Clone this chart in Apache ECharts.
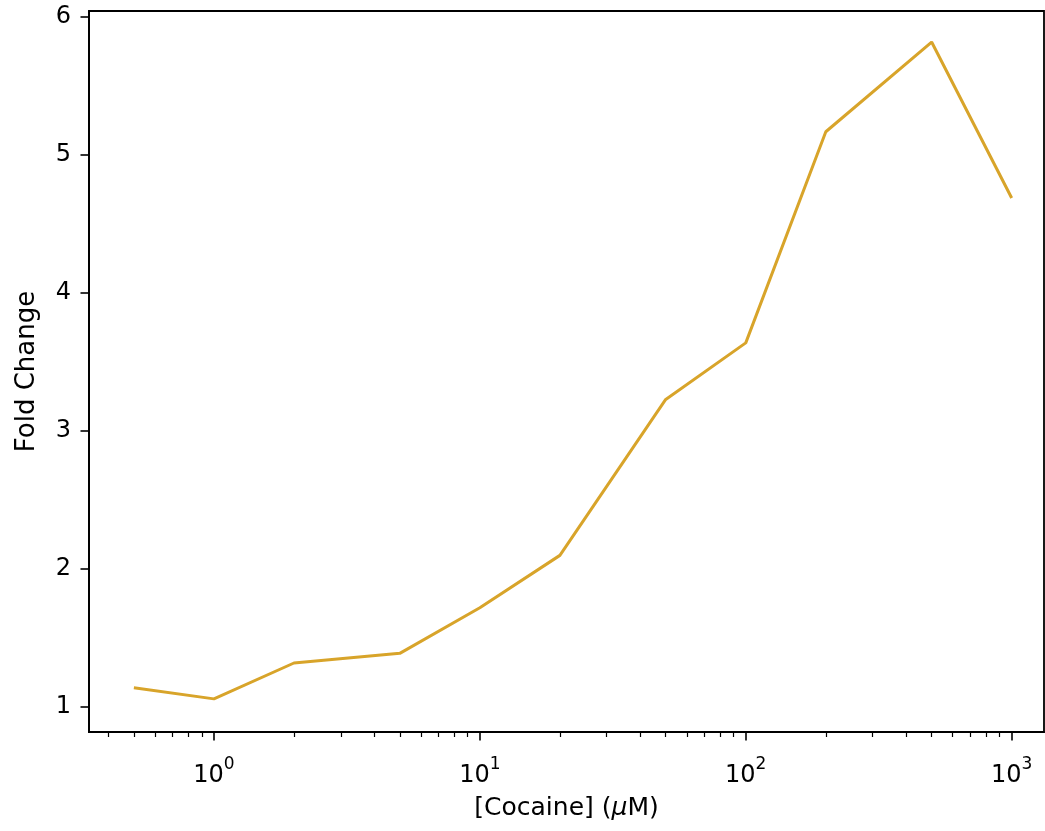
<!DOCTYPE html>
<html><head><meta charset="utf-8">
<script src="https://cdn.jsdelivr.net/npm/echarts@6/dist/echarts.min.js"></script>
<style>html,body{margin:0;padding:0;background:#fff}#c{width:1045px;height:831px}</style>
</head><body><div id="c"></div>
<script>
const concentrations = [0.5, 1, 2, 5, 10, 20, 50, 100, 200, 500, 1000];
const foldChange = [1.14, 1.06, 1.32, 1.39, 1.72, 2.10, 3.23, 3.64, 5.17, 5.82, 4.69];
const xMajorTicks = [1, 10, 100, 1000];
const xMinorTicks = [0.4, 0.5, 0.6, 0.7, 0.8, 0.9, 2, 3, 4, 5, 6, 7, 8, 9, 20, 30, 40, 50, 60, 70, 80, 90, 200, 300, 400, 500, 600, 700, 800, 900];
const yTicks = [1, 2, 3, 4, 5, 6];
const xTitle = '[Cocaine] ({i|\u03BC}M)';
const yTitle = 'Fold Change';

const FONT = 'DejaVu Sans';
const FS = 24;
const chart = echarts.init(document.getElementById('c'), null, {renderer: 'canvas'});
const xRange = {min: 0.339, max: 1323};

chart.setOption({
  animation: false,
  backgroundColor: '#fff',
  grid: {left: 89, top: 11, right: 1, bottom: 99, show: true, borderColor: '#000', borderWidth: 1.8, backgroundColor: 'transparent', containLabel: false},
  xAxis: [{
    type: 'log', logBase: 10, min: xRange.min, max: xRange.max, gridIndex: 0,
    name: xTitle, nameLocation: 'middle', nameGap: 64,
    nameTextStyle: {fontFamily: FONT, fontSize: 25, color: '#000',
      rich: {i: {fontFamily: FONT, fontStyle: 'italic', fontSize: 25, color: '#000'}}},
    axisLine: {show: true, lineStyle: {color: '#000', width: 1.8}},
    axisTick: {show: true, length: 8.5, lineStyle: {color: '#000', width: 1.6}, customValues: xMajorTicks},
    axisLabel: {
      show: true, margin: 24, customValues: xMajorTicks,
      formatter: v => '{b|10}{s|' + Math.round(Math.log10(v)) + '}',
      rich: {
        b: {fontFamily: FONT, fontSize: FS, color: '#000'},
        s: {fontFamily: FONT, fontSize: 17, color: '#000', padding: [0, 0, 22, 0]}
      }
    },
    splitLine: {show: false}, minorTick: {show: false}
  }, {
    type: 'log', logBase: 10, min: xRange.min, max: xRange.max, gridIndex: 0, position: 'bottom',
    axisLine: {show: false},
    axisTick: {show: true, length: 5, lineStyle: {color: '#000', width: 1.2}, customValues: xMinorTicks},
    axisLabel: {show: false},
    splitLine: {show: false}
  }],
  yAxis: [{
    type: 'value', min: 0.82, max: 6.045,
    name: yTitle, nameLocation: 'middle', nameGap: 49, nameRotate: 90,
    nameTextStyle: {fontFamily: FONT, fontSize: 26, color: '#000'},
    axisLine: {show: true, lineStyle: {color: '#000', width: 1.8}},
    axisTick: {show: true, length: 8.5, lineStyle: {color: '#000', width: 1.6}, customValues: yTicks},
    axisLabel: {show: true, margin: 18, customValues: yTicks, fontFamily: FONT, fontSize: FS, color: '#000'},
    splitLine: {show: false}
  }],
  series: [{
    type: 'line', xAxisIndex: 0, yAxisIndex: 0,
    data: concentrations.map((c, i) => [c, foldChange[i]]),
    showSymbol: false, symbol: 'none',
    lineStyle: {color: '#D8A42A', width: 3},
    itemStyle: {color: '#D8A42A'}
  }]
});
</script></body></html>
